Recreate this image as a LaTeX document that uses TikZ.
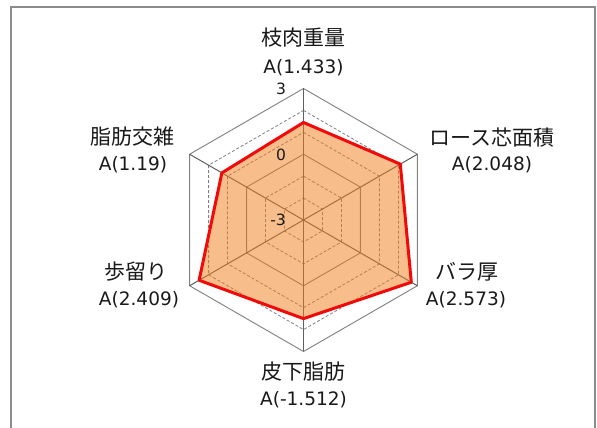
\documentclass[tikz,border=0pt]{standalone}
\usepackage{fontspec}
\usetikzlibrary{calc}
\setmainfont{DejaVu Sans}
\newfontfamily\jp{Noto Sans CJK JP}
\definecolor{gridc}{HTML}{808080}
\definecolor{framec}{HTML}{8C8C8C}
\definecolor{areac}{RGB}{241,125,25}
\definecolor{linec}{RGB}{240,10,10}
\begin{document}
\begin{tikzpicture}[x=1pt,y=1pt,
  jlab/.style={font=\jp\fontsize{21}{21}\selectfont, inner sep=0pt, text=black!90},
  vlab/.style={font=\fontsize{18.5}{19}\selectfont, inner sep=0pt, text=black!90},
  tick/.style={font=\fontsize{15.5}{16}\selectfont, inner sep=0pt, text=black!90},
  ring/.style={draw=gridc, line width=0.9pt},
  dring/.style={draw=gridc, line width=0.8pt, dash pattern=on 3pt off 2pt},
  spoke/.style={draw=gridc!75!black, line width=1pt},
  area/.style={fill=areac, fill opacity=0.5},
  dataline/.style={draw=linec, line width=3pt, line join=round}]
\useasboundingbox (0,0) rectangle (597,428);
\fill[white] (0,0) rectangle (597,428);
% frame
\draw[framec, line width=2pt] (10.5,-5) |- (594.5,420.5) -- (594.5,-5);
\coordinate (c) at (303.5,208);
\def\R{131.5}
% rings
\foreach \k/\st in {1/dring,2/dring,3/ring,4/dring,5/dring,6/ring}{
  \pgfmathsetmacro{\rr}{\k*\R/6}
  \path[\st] ($(c)+(90:\rr)$) -- ($(c)+(30:\rr)$) -- ($(c)+(-30:\rr)$) -- ($(c)+(-90:\rr)$) -- ($(c)+(210:\rr)$) -- ($(c)+(150:\rr)$) -- cycle;
}
% spokes
\foreach \a/\n in {90/o1,30/o2,-30/o3,-90/o4,210/o5,150/o6}{
  \coordinate (\n) at ($(c)+(\a:\R)$);
  \path[spoke] (c) -- (\n);
}
% data points (as plotted)
\foreach \a/\v/\n in {90/1.45/p1,30/2.1/p2,-30/2.68/p3,-90/1.5/p4,210/2.5/p5,150/1.3/p6}{
  \pgfmathsetmacro{\rr}{(\v+3)/6*\R}
  \coordinate (\n) at ($(c)+(\a:\rr)$);
}
\path[area] (p1) -- (p2) -- (p3) -- (p4) -- (p5) -- (p6) -- cycle;
\path[dataline] (p1) -- (p2) -- (p3) -- (p4) -- (p5) -- (p6) -- cycle;
% tick labels
\node[tick] (t3) at (281,339) {3};
\node[tick] (t0) at (281,273) {0};
\node[tick] (tm3) at (278,208) {-3};
% category labels
\node[jlab] (l1) at (303.5,390) {枝肉重量};
\node[vlab] (v1) at (303.5,360) {A(1.433)};
\node[jlab] (l2) at (492,290) {ロース芯面積};
\node[vlab] (v2) at (492,263) {A(2.048)};
\node[jlab] (l3) at (467,156) {バラ厚};
\node[vlab] (v3) at (466,128) {A(2.573)};
\node[jlab] (l4) at (303.5,56) {皮下脂肪};
\node[vlab] (v4) at (303.5,28) {A(-1.512)};
\node[jlab] (l5) at (136,156) {歩留り};
\node[vlab] (v5) at (139,128) {A(2.409)};
\node[jlab] (l6) at (132,291) {脂肪交雑};
\node[vlab] (v6) at (133,263) {A(1.19)};
\end{tikzpicture}
\end{document}
